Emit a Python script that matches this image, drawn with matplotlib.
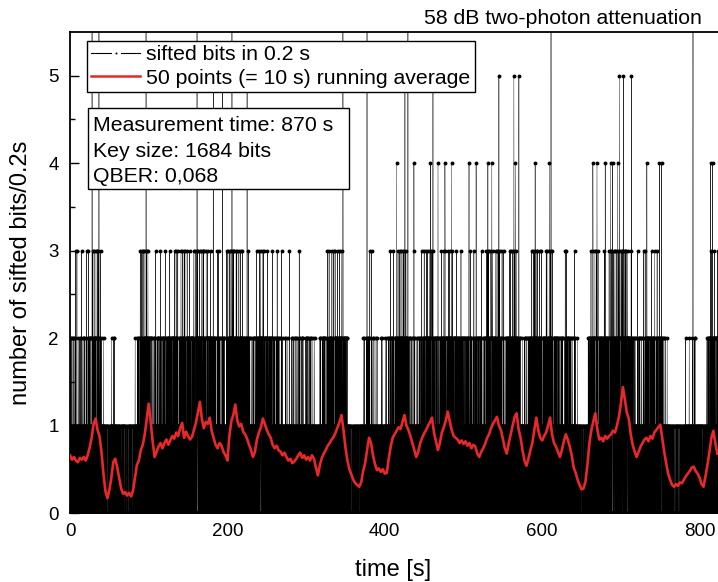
import numpy as np
import matplotlib.pyplot as plt
from matplotlib.lines import Line2D
from matplotlib.patches import Rectangle

plt.rcParams["font.family"] = ["Liberation Sans", "DejaVu Sans"]

SEG = 10.0  # seconds per row below, 50 samples of 0.2 s

# sifted bits per 0.2 s (0-3), one row per 10 s, groups of 2 s
bits_rows = [
    "1020100201 0102100110 2001010120 0110203001 1000301001",
    "0102100110 1020100201 1000301001 2001010120 0201001010",
    "1020130100 0110203001 2010210201 0102100110 1200301020",
    "2013010220 1202031010 0210320102 3010201201 1020130100",
    "0201001010 0101200100 0100100010 0010000100 0001000010",
    "0001000010 0101200100 1001001020 0201001010 0100100010",
    "0010000100 0100100010 0001000010 0010010001 0100001000",
    "0100001000 0010000100 0001000010 0100100010 0010000100",
    "0010010001 0101200100 1001001020 1020100201 0110203001",
    "1020130100 2013010220 3010201201 2102301320 1202031010",
    "2010210201 1020100201 0102100110 0120102011 1020130100",
    "0120102011 2001010120 1200301020 0102100110 2010210201",
    "1020130100 0120102011 2010210201 1200301020 1020100201",
    "2010210201 1200301020 0210320102 1020130100 0120102011",
    "1202031010 2013010220 1020130100 3010201201 0210320102",
    "0120102011 3010201201 2010210201 1202031010 1020130100",
    "2102301320 1230120211 2013010220 1202031010 2102301320",
    "3010201201 1202031010 0210320102 2010210201 2013010220",
    "1020100201 2010210201 0120102011 0110203001 1200301020",
    "0102100110 2001010120 1020100201 0201001010 0110203001",
    "2013010220 0210320102 1230120211 2102301320 3010201201",
    "1202031010 3010201201 2013010220 0210320102 1020130100",
    "2010210201 0120102011 1020100201 1200301020 0102100110",
    "0102100110 1020100201 2001010120 1020130100 2010210201",
    "2013010220 1230120211 1202031010 3010201201 2010210201",
    "1200301020 0120102011 2010210201 1020130100 1020100201",
    "2001010120 0110203001 1020100201 0102100110 1020130100",
    "0201001010 1001001020 0102100110 0101200100 1000301001",
    "1001001020 0102100110 0201001010 2001010120 0101200100",
    "0110203001 0201001010 1020100201 0102100110 1001001020",
    "1020100201 0101200100 2001010120 0201001010 0102100110",
    "0101200100 0100100010 0010010001 1001001020 0201001010",
    "1020100201 2010210201 0102100110 1020130100 0110203001",
    "2010210201 1200301020 1020130100 0210320102 0120102011",
    "3010201201 2013010220 1202031010 0210320102 2010210201",
    "1020100201 0201001010 0100100010 0010000100 0001000010",
    "0010000100 0100100010 0001000010 0100001000 0010010001",
    "0100100010 0101200100 0201001010 1020100201 2010210201",
    "1020130100 0110203001 0102100110 0201001010 0101200100",
    "0201001010 0100100010 1001001020 0101200100 0010010001",
    "0101200100 0201001010 1020100201 0110203001 2010210201",
    "1020130100 0120102011 2010210201 1200301020 0210320102",
    "2013010220 1202031010 3010201201 0210320102 2010210201",
    "1020100201 0102100110 2001010120 0110203001 0201001010",
    "0102100110 2001010120 1020100201 1020130100 2010210201",
    "3010201201 0210320102 2013010220 1202031010 1020130100",
    "1200301020 0120102011 1020100201 2010210201 0102100110",
    "2010210201 3010201201 1202031010 2013010220 0120102011",
    "0210320102 2013010220 1202031010 3010201201 2010210201",
    "1020130100 2010210201 0120102011 1200301020 1020100201",
    "0120102011 1020100201 2010210201 0102100110 1200301020",
    "2001010120 0110203001 1020100201 0102100110 2010210201",
    "1020100201 1020130100 0102100110 2010210201 0110203001",
    "2013010220 3010201201 0210320102 1202031010 2010210201",
    "1202031010 2013010220 1230120211 3010201201 1020130100",
    "0110203001 0102100110 2010210201 1020100201 1200301020",
    "3010201201 2013010220 0210320102 1202031010 2010210201",
    "1020100201 0201001010 0102100110 1001001020 2001010120",
    "0102100110 1020100201 2010210201 1200301020 2013010220",
    "2013010220 1202031010 3010201201 0210320102 1020130100",
    "0120102011 2010210201 1202031010 3010201201 1200301020",
    "2013010220 1020130100 0120102011 2010210201 1020100201",
    "1020100201 0102100110 2010210201 0201001010 0110203001",
    "1200301020 1020100201 0120102011 2001010120 0102100110",
    "0110203001 0201001010 0101200100 0100100010 0010000100",
    "0001000010 0010000100 0100001000 0101000110 1020100201",
    "2010210201 3010201201 2013010220 1202031010 0210320102",
    "1020130100 0120102011 2010210201 1020100201 1200301020",
    "0120102011 2010210201 1020130100 1200301020 3010201201",
    "2013010220 1230120211 3010201201 0210320102 1202031010",
    "2102301320 1230120211 2102301320 2013010220 1230120211",
    "2010210201 1020130100 0120102011 1020100201 0102100110",
    "0110203001 1020100201 2001010120 0102100110 1020130100",
    "1200301020 0120102011 2010210201 1020100201 1020130100",
    "2010210201 1202031010 0120102011 3010201201 1020130100",
    "2010210201 1020100201 0102100110 0201001010 0101200100",
    "0100100010 0010010001 0001000010 0100001000 0010000100",
    "0010010001 0100001000 0010000100 0100100010 0001000010",
    "0100100010 0201001010 0010010001 0101200100 0100100010",
    "0101200100 1001001020 0201001010 0100100010 0010010001",
    "0010010001 0100100010 0001000010 0100001000 0101200100",
    "1020100201 2010210201 1200301020 0120102011 2013010220",
    "0120102011 1020130100 2010210201 1020100201 1200301020",
]

# spikes of 4 and more (6 = runs off the top)
peak_t = [28.0, 36.8, 96.6, 161.4, 205.8, 346.9, 377.4, 429.5, 611.2, 791.6,
          182.0, 194.0, 225.0, 425.7, 461.2, 545.0, 564.0, 570.5, 698.0, 703.0, 713.5,
          415.0, 437.0, 458.0, 467.6, 476.5, 485.0, 507.0, 516.0, 531.0, 536.0,
          566.0, 591.0, 609.0, 664.5, 669.6, 680.0, 687.0, 689.6, 696.0, 733.0,
          749.0, 751.6, 814.0, 816.6]
peak_v = [6, 6, 6, 6, 6, 6, 6, 6, 6, 6,
          5, 5, 5, 5, 5, 5, 5, 5, 5, 5, 5,
          4, 4, 4, 4, 4, 4, 4, 4, 4, 4,
          4, 4, 4, 4, 4, 4, 4, 4, 4, 4,
          4, 4, 4, 4]

# 50 point running average (red trace), read every 2.5 s from t = 0
AVG_STEP = 2.5
avg_v = [
    0.66, 0.61, 0.64, 0.60, 0.58, 0.63, 0.61, 0.64, 0.60, 0.66,
    0.75, 0.86, 1.02, 1.08, 0.95, 0.88, 0.70, 0.45, 0.25, 0.17,
    0.26, 0.40, 0.58, 0.62, 0.52, 0.40, 0.28, 0.22, 0.24, 0.20,
    0.23, 0.19, 0.25, 0.40, 0.55, 0.60, 0.72, 0.78, 0.90, 1.08,
    1.25, 1.05, 0.82, 0.64, 0.70, 0.76, 0.80, 0.74, 0.80, 0.84,
    0.78, 0.83, 0.88, 0.85, 0.92, 0.88, 0.97, 1.03, 0.86, 0.93,
    0.88, 0.84, 0.87, 0.95, 1.03, 1.15, 1.27, 1.08, 0.97, 1.04,
    1.02, 1.09, 0.94, 0.86, 0.78, 0.74, 0.80, 0.77, 0.70, 0.66,
    0.60, 0.88, 1.05, 1.12, 1.24, 1.06, 0.99, 1.02, 0.93, 0.90,
    0.85, 0.78, 0.72, 0.64, 0.70, 0.84, 0.92, 0.98, 1.08, 1.02,
    0.95, 0.90, 0.86, 0.78, 0.74, 0.77, 0.72, 0.70, 0.66, 0.69,
    0.64, 0.60, 0.62, 0.57, 0.59, 0.62, 0.66, 0.69, 0.63, 0.66,
    0.61, 0.64, 0.60, 0.66, 0.62, 0.52, 0.43, 0.55, 0.63, 0.68,
    0.72, 0.77, 0.80, 0.84, 0.87, 0.92, 0.98, 1.04, 1.12, 0.95,
    0.75, 0.60, 0.50, 0.44, 0.38, 0.34, 0.32, 0.30, 0.35, 0.48,
    0.57, 0.72, 0.86, 0.80, 0.66, 0.56, 0.49, 0.51, 0.47, 0.50,
    0.45, 0.46, 0.62, 0.76, 0.86, 0.90, 0.94, 0.98, 0.96, 1.04,
    1.12, 1.00, 0.95, 0.88, 0.80, 0.72, 0.64, 0.70, 0.80, 0.86,
    0.91, 0.95, 1.00, 1.04, 1.09, 0.92, 0.82, 0.72, 0.80, 0.92,
    0.98, 1.06, 1.16, 1.05, 0.95, 0.88, 0.86, 0.84, 0.80, 0.83,
    0.79, 0.82, 0.77, 0.80, 0.74, 0.78, 0.76, 0.68, 0.64, 0.70,
    0.74, 0.79, 0.86, 0.90, 0.97, 1.02, 1.06, 1.10, 1.00, 0.95,
    0.85, 0.74, 0.68, 0.80, 0.90, 1.00, 1.10, 1.14, 0.96, 0.86,
    0.72, 0.60, 0.54, 0.62, 0.72, 0.80, 0.95, 1.09, 0.95, 0.86,
    0.83, 0.88, 0.92, 1.00, 1.09, 0.90, 0.80, 0.76, 0.70, 0.64,
    0.72, 0.82, 0.90, 0.84, 0.76, 0.66, 0.52, 0.46, 0.38, 0.32,
    0.27, 0.28, 0.36, 0.55, 0.80, 0.95, 1.05, 1.14, 0.96, 0.84,
    0.86, 0.82, 0.88, 0.85, 0.88, 0.90, 0.94, 0.92, 1.00, 1.10,
    1.25, 1.44, 1.30, 1.15, 1.08, 0.90, 0.78, 0.70, 0.64, 0.70,
    0.76, 0.80, 0.84, 0.86, 0.82, 0.88, 0.85, 0.92, 0.95, 0.98,
    1.01, 0.86, 0.70, 0.57, 0.45, 0.38, 0.32, 0.30, 0.33, 0.31,
    0.35, 0.34, 0.38, 0.42, 0.45, 0.48, 0.52, 0.53, 0.48, 0.45,
    0.40, 0.33, 0.30, 0.42, 0.55, 0.70, 0.86, 0.94, 0.80, 0.68,
]

info_lines = ["Measurement time: 870 s", "Key size: 1684 bits", "QBER: 0,068"]


def build_counts():
    ts, cs = [], []
    for k, row in enumerate(bits_rows):
        s = row.replace(" ", "")
        n = len(s)
        ts.append(k * SEG + SEG * np.arange(n) / n)
        cs.append([int(ch) for ch in s])
    t = np.concatenate(ts)
    c = np.concatenate(cs).astype(float)
    for tp, vp in zip(peak_t, peak_v):
        c[np.argmin(np.abs(t - tp))] = vp
    return t, c


t, counts = build_counts()
avg_t = AVG_STEP * np.arange(len(avg_v))

W, H = 718, 582
px_per_s = 0.787
x0, x1, y0, y1 = 70, 730, 513, 32      # axes box in pixels (right side runs off the image)
fig = plt.figure(figsize=(W / 100, H / 100), dpi=100)
ax = fig.add_axes([x0 / W, (H - y0) / H, (x1 - x0) / W, (y0 - y1) / H])

ax.plot(t, counts, color="k", lw=0.3, marker="o", ms=2.8, mew=0, zorder=2)
ax.plot(avg_t, avg_v, color="#e8282b", lw=1.9, zorder=3)

ax.set_xlim(0, (x1 - x0) / px_per_s)
ax.set_ylim(0, 5.5)
ax.set_xticks([0, 200, 400, 600, 800])
ax.set_yticks([0, 1, 2, 3, 4, 5])
ax.set_yticks(np.arange(0.5, 5.5, 1.0), minor=True)
ax.tick_params(axis="both", which="major", direction="in", length=6.5, width=1.0,
               labelsize=13.5, pad=8)
ax.tick_params(axis="y", which="minor", direction="in", length=3.5, width=1.0)
ax.tick_params(axis="x", which="major", pad=7)
for sp in ax.spines.values():
    sp.set_linewidth(1.3)

ax.set_xlabel("time [s]", fontsize=17)
ax.xaxis.set_label_coords((393 - x0) / (x1 - x0), -0.095)
ax.set_ylabel("number of sifted bits/0.2s", fontsize=17, labelpad=12)
ax.set_title("58 dB two-photon attenuation", fontsize=15.3, loc="right",
             x=(702 - x0) / (x1 - x0), pad=6)

handles = [Line2D([], [], color="k", lw=0.8, marker="o", ms=4, mfc="k", mec="w", mew=2.5),
           Line2D([], [], color="#e8282b", lw=1.8)]
leg = ax.legend(handles, ["sifted bits in 0.2 s", "50 points (= 10 s) running average"],
                loc="upper left", bbox_to_anchor=((87 - x0) / (x1 - x0), (y0 - 41) / (y0 - y1)),
                fontsize=15.3, frameon=True, fancybox=False, edgecolor="k", framealpha=1,
                borderpad=0.2, borderaxespad=0, handlelength=2.3, handletextpad=0.3,
                labelspacing=0.2)
leg.get_frame().set_linewidth(1.0)
leg.set_zorder(5)

box_x0, box_x1, box_top, box_bot = 88, 349, 108, 189
ax.add_patch(Rectangle(((box_x0 - x0) / (x1 - x0), (y0 - box_bot) / (y0 - y1)),
                       (box_x1 - box_x0) / (x1 - x0), (box_bot - box_top) / (y0 - y1),
                       transform=ax.transAxes, facecolor="w", edgecolor="k", lw=1.0, zorder=5))
for line, base in zip(info_lines, [131, 157, 182]):
    ax.text((93 - x0) / (x1 - x0), (y0 - base) / (y0 - y1), line, transform=ax.transAxes,
            fontsize=15.3, va="baseline", ha="left", zorder=6)

fig.savefig("out.png", dpi=100)
